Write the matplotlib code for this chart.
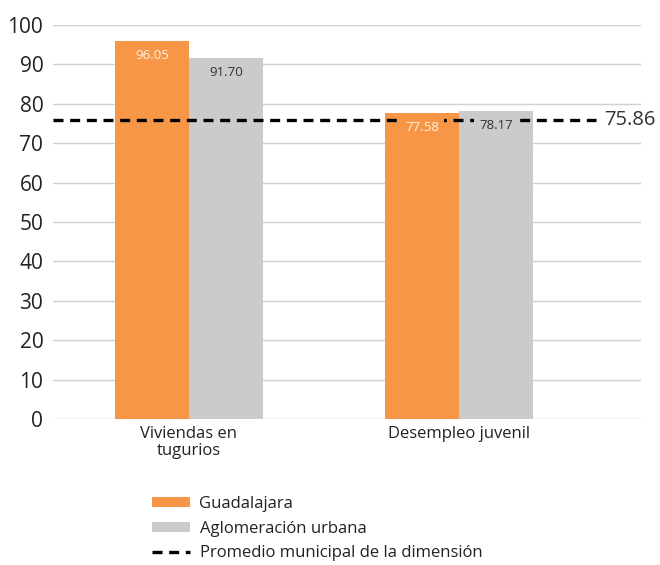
import matplotlib
matplotlib.use("Agg")
import matplotlib.pyplot as plt
from matplotlib.patches import Patch
from matplotlib.lines import Line2D
import numpy as np

categories = ["Viviendas en\ntugurios", "Desempleo juvenil"]
guadalajara = [96.05, 77.58]
aglomeracion = [91.70, 78.17]
promedio = 75.86
series_names = ["Guadalajara", "Aglomeración urbana", "Promedio municipal de la dimensión"]
yticks = [0, 10, 20, 30, 40, 50, 60, 70, 80, 90, 100]

ORANGE = "#F79646"
GRAY = "#CBCBCB"
FONT = "Open Sans"
plt.rcParams["font.family"] = [FONT, "DejaVu Sans"]

fig = plt.figure(figsize=(6.6, 5.65), dpi=100)
ax = fig.add_axes([53/660, 1-419/565, (641-53)/660, (419-25)/565])

x = np.arange(len(categories))
w = 0.274
b1 = ax.bar(x - w/2, guadalajara, w, color=ORANGE, zorder=2)
b2 = ax.bar(x + w/2, aglomeracion, w, color=GRAY, zorder=2)

ax.set_xlim(-136/270, 1 + 182/270)
ax.set_ylim(0, 100)
ax.set_yticks(yticks)
ax.yaxis.grid(True, color="#D0D0D0", linewidth=1, zorder=0)
ax.set_axisbelow(True)
for s in ax.spines.values():
    s.set_visible(False)
ax.tick_params(axis="y", length=0, labelsize=15, pad=7, labelcolor="#222222")
ax.tick_params(axis="x", length=0, labelsize=12, pad=5, labelcolor="#222222")
ax.set_xticks(x)
ax.set_xticklabels(categories, linespacing=1.05)

xmax_line = (596-53)/(641-53)
ax.axhline(promedio, xmin=0, xmax=xmax_line, color="black", linestyle=(0, (3, 2.0)),
           linewidth=2.4, zorder=3)
ax.text(xmax_line + 0.014, promedio, f"{promedio:.2f}", transform=ax.get_yaxis_transform(),
        fontsize=14.5, color="#333333", va="center", ha="left", zorder=5,
        bbox=dict(facecolor="white", edgecolor="none", pad=2))

for bars, vals, fc, tc in [(b1, guadalajara, ORANGE, "#FFF3E6"), (b2, aglomeracion, GRAY, "#333333")]:
    for rect, v in zip(bars, vals):
        ax.text(rect.get_x() + rect.get_width()/2, v - 3.7, f"{v:.2f}", ha="center", va="center",
                fontsize=9.5, color=tc, zorder=4,
                bbox=dict(facecolor=fc, edgecolor="none", pad=4))

handles = [Patch(facecolor=ORANGE, edgecolor="none"),
           Patch(facecolor=GRAY, edgecolor="none"),
           Line2D([0], [0], color="black", linestyle=(0, (3, 2.0)), linewidth=2.4)]
fig.legend(handles, series_names, loc="upper left", bbox_to_anchor=(137/660, 1-481/565),
           frameon=False, fontsize=12, handlelength=2.3, handleheight=0.55,
           labelspacing=0.52, handletextpad=0.55, labelcolor="#222222")

fig.savefig("out.png", dpi=100)
